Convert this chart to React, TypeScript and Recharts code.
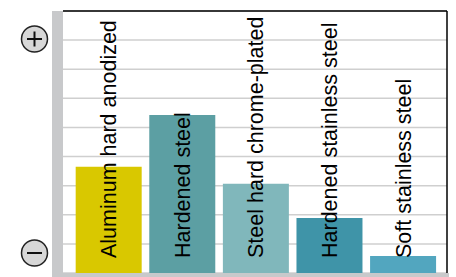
import React from 'react';
import { BarChart, Bar, XAxis, YAxis, CartesianGrid, ReferenceLine, Cell, LabelList } from 'recharts';

const materials = [
  'Aluminum hard anodized',
  'Hardened steel',
  'Steel hard chrome-plated',
  'Hardened stainless steel',
  'Soft stainless steel',
];
const hardness = [3.65, 5.43, 3.07, 1.89, 0.58];
const barColors = ['#d9c800', '#5c9fa3', '#80b7bb', '#3f94a8', '#52a6bf'];
const yTicks = [0, 1, 2, 3, 4, 5, 6, 7, 8, 9];

const data = materials.map((name, i) => ({ name, value: hardness[i] }));

const FRAME_GRAY = '#c8c9cb';

function VerticalLabel(props: any) {
  const { x, y, width, height, value } = props;
  const cx = x + width / 2 + 7.5;
  const bottom = y + height - 15;
  return (
    <text
      x={cx}
      y={bottom}
      transform={`rotate(-90 ${cx} ${bottom})`}
      textAnchor="start"
      fontSize={21.5}
      fontFamily="'Liberation Sans', Arial, sans-serif"
      fill="#000"
    >
      {value}
    </text>
  );
}

function ZoomIcons() {
  return (
    <svg width={456} height={277} style={{ position: 'absolute', left: 0, top: 0, pointerEvents: 'none' }}>
      {/* frame pieces left and bottom */}
      <rect x={52} y={11} width={11} height={266} fill={FRAME_GRAY} />
      <rect x={52} y={273} width={397} height={4} fill={FRAME_GRAY} />
      <circle cx={34.5} cy={39} r={13} fill="#d7d7d7" stroke="#222" strokeWidth={1.5} />
      <line x1={27} y1={39} x2={42} y2={39} stroke="#111" strokeWidth={2} />
      <line x1={34.5} y1={31.5} x2={34.5} y2={46.5} stroke="#111" strokeWidth={2} />
      <circle cx={34.5} cy={253} r={13} fill="#d7d7d7" stroke="#222" strokeWidth={1.5} />
      <line x1={27} y1={253} x2={42} y2={253} stroke="#111" strokeWidth={2} />
    </svg>
  );
}

export default function App() {
  return (
    <div style={{ position: 'fixed', left: 0, top: 0, width: 456, height: 277, background: '#fff' }}>
      <BarChart
        width={456}
        height={277}
        data={data}
        margin={{ top: 11, right: 8, left: 63, bottom: 4 }}
        barCategoryGap="5%"
      >
        <CartesianGrid horizontal vertical={false} stroke="#cfcfcf" strokeWidth={1.5} />
        <XAxis dataKey="name" hide padding={{ left: 9, right: 7 }} />
        <YAxis hide domain={[0, 9]} ticks={yTicks} />
        <YAxis
          yAxisId="r"
          orientation="right"
          width={1}
          domain={[0, 9]}
          tick={false}
          tickLine={false}
          axisLine={{ stroke: '#000', strokeWidth: 1.5 }}
        />
        <ReferenceLine y={9} stroke="#000" strokeWidth={1.5} />
        <Bar dataKey="value" isAnimationActive={false}>
          {data.map((d, i) => (
            <Cell key={d.name} fill={barColors[i]} />
          ))}
          <LabelList dataKey="name" content={VerticalLabel} />
        </Bar>
      </BarChart>
      <ZoomIcons />
    </div>
  );
}
